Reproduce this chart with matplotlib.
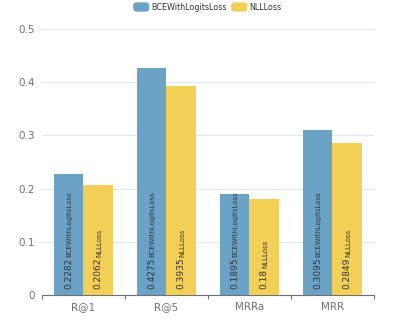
import matplotlib
matplotlib.use("Agg")
import matplotlib.pyplot as plt
import numpy as np
from matplotlib.patches import FancyBboxPatch
from matplotlib.legend_handler import HandlerPatch

categories = ["R@1", "R@5", "MRRa", "MRR"]
series_names = ["BCEWithLogitsLoss", "NLLLoss"]
bce_values = [0.2282, 0.4275, 0.1895, 0.3095]
nll_values = [0.2062, 0.3935, 0.18, 0.2849]
value_labels = [["0.2282", "0.4275", "0.1895", "0.3095"], ["0.2062", "0.3935", "0.18", "0.2849"]]
colors = ["#6BA3C6", "#F2CF55"]

fig = plt.figure(figsize=(4.15, 3.29), dpi=100)
ax = fig.add_axes([0.101, 0.1033, 0.8, 0.8086])

x = np.arange(len(categories))
w = 0.36
series = [bce_values, nll_values]
bars_all = []
for i, vals in enumerate(series):
    offs = (i - 0.5) * w
    b = ax.bar(x + offs, vals, width=w, color=colors[i], label=series_names[i], zorder=3)
    bars_all.append(b)

ax.set_xlim(-0.5, len(categories) - 0.5)
ax.set_ylim(0, 0.5)
ax.set_yticks([0, 0.1, 0.2, 0.3, 0.4, 0.5])
ax.set_yticklabels(["0", "0.1", "0.2", "0.3", "0.4", "0.5"])
ax.yaxis.grid(True, color="#E0E6F1", linewidth=0.8, zorder=0)
ax.tick_params(axis="y", length=0, labelsize=7.5, labelcolor="#6E7079", pad=5)
ax.set_xticks(x)
ax.set_xticklabels(categories)
ax.tick_params(axis="x", length=0, labelsize=7.5, labelcolor="#6E7079", pad=5)
ax.set_xticks(np.arange(-0.5, len(categories) + 0.5, 1), minor=True)
ax.tick_params(axis="x", which="minor", length=3, color="#6E7079", width=0.8)
for s in ["top", "right", "left"]:
    ax.spines[s].set_visible(False)
ax.spines["bottom"].set_color("#6E7079")
ax.spines["bottom"].set_linewidth(0.8)

fig.canvas.draw()
renderer = fig.canvas.get_renderer()
inv = ax.transData.inverted()
for i, b in enumerate(bars_all):
    for j, rect in enumerate(b):
        cx = rect.get_x() + rect.get_width() / 2
        t1 = ax.text(cx, 0, value_labels[i][j], rotation=90, fontsize=6.5, color="#333333",
                     ha="center", va="bottom", zorder=4,
                     transform=ax.transData + matplotlib.transforms.ScaledTranslation(0, 6/100, fig.dpi_scale_trans))
        bb = t1.get_window_extent(renderer)
        top_data = inv.transform((0, bb.y1))[1]
        ax.text(cx, top_data, series_names[i], rotation=90, fontsize=5, color="#333333",
                ha="center", va="bottom", zorder=4,
                transform=ax.transData + matplotlib.transforms.ScaledTranslation(0.6/100, 0.5/100, fig.dpi_scale_trans))


class HandlerRound(HandlerPatch):
    def create_artists(self, legend, orig_handle, xdescent, ydescent, width, height, fontsize, trans):
        p = FancyBboxPatch((-xdescent, -ydescent), width, height,
                           boxstyle="round,pad=0,rounding_size=2.5",
                           facecolor=orig_handle.get_facecolor(), edgecolor="none", transform=trans)
        return [p]

handles = [b.patches[0] for b in bars_all]
fig.legend(handles, series_names, loc="upper center", bbox_to_anchor=(0.5, 1.015), ncol=2,
           frameon=False, fontsize=5.8, handlelength=2.0, handleheight=1.4, columnspacing=0.5,
           handletextpad=0.3, labelcolor="#333333",
           handler_map={matplotlib.patches.Rectangle: HandlerRound()})

fig.savefig("out.png", dpi=100, facecolor="white")
